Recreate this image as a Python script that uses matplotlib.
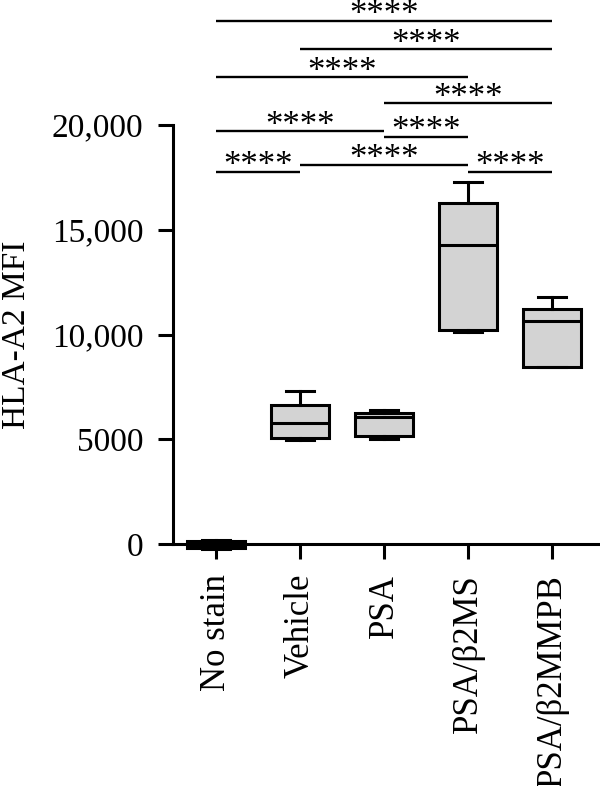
import matplotlib
matplotlib.use('Agg')
import matplotlib.pyplot as plt

plt.rcParams['font.family'] = ['Liberation Serif', 'DejaVu Serif']

groups = ['No stain', 'Vehicle', 'PSA', 'PSA/β2MS', 'PSA/β2MMPB']
whislo = [-250, 4980, 5010, 10120, 8430]
q1 = [-200, 5060, 5160, 10210, 8430]
med = [-30, 5780, 6080, 14290, 10630]
q3 = [150, 6630, 6270, 16290, 11200]
whishi = [200, 7300, 6400, 17290, 11800]

yticks = [0, 5000, 10000, 15000, 20000]
ytick_labels = ['0', '5000', '10,000', '15,000', '20,000']

# significance bars: (group a, group b, height)
sig_pairs = [(0, 1, 17770), (1, 3, 18090), (3, 4, 17770),
             (0, 2, 19710), (2, 3, 19430), (2, 4, 21040),
             (0, 3, 22280), (1, 4, 23610), (0, 4, 24980)]
sig_text = '****'

fig = plt.figure(figsize=(6, 7.86), dpi=100)
ax = fig.add_axes([173/600, 242/786, 427/600, 544/786])

stats = []
for i in range(len(groups)):
    stats.append(dict(whislo=whislo[i], q1=q1[i], med=med[i], q3=q3[i], whishi=whishi[i], fliers=[]))

lw = 2.2
bp = ax.bxp(stats, positions=range(len(groups)), widths=0.69, capwidths=0.33,
            patch_artist=True, showfliers=False,
            boxprops=dict(facecolor='#d3d3d3', edgecolor='black', linewidth=lw),
            medianprops=dict(color='black', linewidth=lw),
            whiskerprops=dict(color='black', linewidth=lw),
            capprops=dict(color='black', linewidth=lw))
for k in bp:
    for a in bp[k]:
        a.set_clip_on(False)
bp['boxes'][0].set_facecolor('black')

for a, b, h in sig_pairs:
    ax.plot([a, b], [h, h], color='black', lw=1.7, clip_on=False, solid_capstyle='butt')
    ax.annotate(sig_text, xy=((a + b) / 2, h), xytext=(0, -2.5), textcoords='offset points',
                ha='center', va='baseline', fontsize=25, annotation_clip=False)

ax.set_xlim(-0.512, 4.571)
ax.set_ylim(0, 25967)
ax.set_yticks(yticks)
ax.set_yticklabels(ytick_labels, fontsize=24)
ax.set_xticks(range(len(groups)))
ax.set_xticklabels(groups, rotation=90, fontsize=25)
ax.spines['top'].set_visible(False)
ax.spines['right'].set_visible(False)
ax.spines['left'].set_bounds(0, 20000)
ax.spines['left'].set_linewidth(2.2)
ax.spines['bottom'].set_linewidth(2.2)
ax.tick_params(axis='both', width=2.2, length=10.5, pad=11)
ax.set_ylabel('HLA-A2 MFI', fontsize=24, va='center')
ax.yaxis.set_label_coords(-0.366, 0.385)

fig.savefig('out.png', dpi=100)
